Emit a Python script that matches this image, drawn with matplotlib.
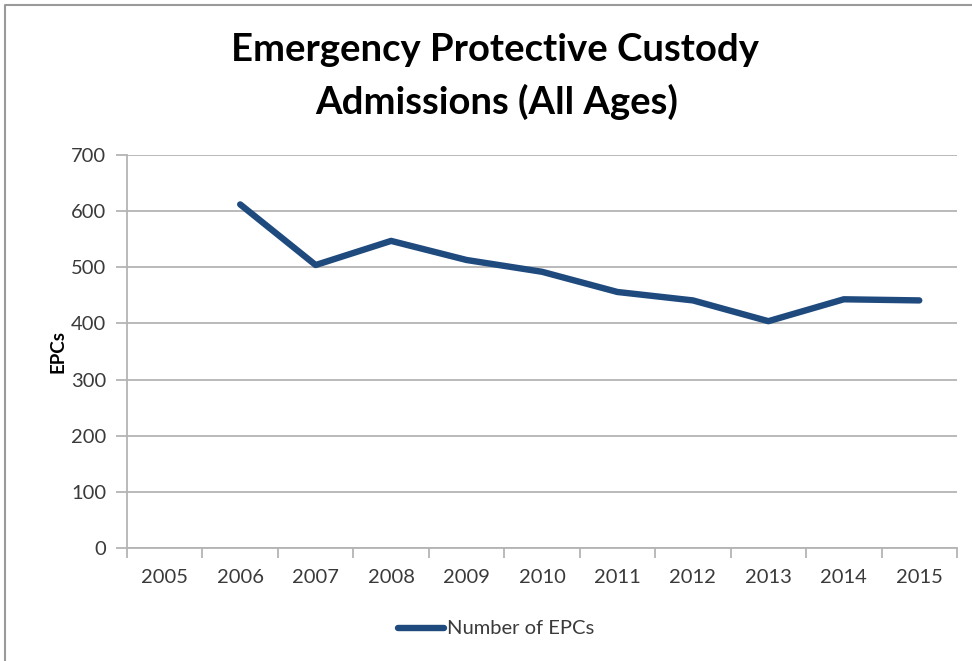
import matplotlib
matplotlib.use("Agg")
import matplotlib.pyplot as plt
from matplotlib.lines import Line2D

# Annual emergency protective custody admissions
years = ["2005", "2006", "2007", "2008", "2009", "2010",
         "2011", "2012", "2013", "2014", "2015"]
epcs = [None, 612, 504, 547, 513, 492, 456, 441, 404, 443, 441]
y_ticks = [0, 100, 200, 300, 400, 500, 600, 700]

W, H = 972, 661
fig = plt.figure(figsize=(W / 100, H / 100), dpi=100)
plt.rcParams['font.family'] = ['Lato', 'DejaVu Sans']

# plot area in pixel coordinates
left, right, top, bottom = 127, 957, 155, 548
ax = fig.add_axes([left / W, 1 - bottom / H, (right - left) / W, (bottom - top) / H])

line_color = "#1F4A7E"
grid_color = "#B4B4B4"
text_color = "#3A3A3A"

xs = [i for i, v in enumerate(epcs) if v is not None]
vs = [v for v in epcs if v is not None]
ax.plot(xs, vs, color=line_color, lw=4.6, solid_capstyle="round",
        solid_joinstyle="round", zorder=3)

ax.set_xlim(-0.5, len(years) - 0.5)
ax.set_ylim(0, 700)
ax.set_yticks(y_ticks)
ax.set_yticklabels([str(t) for t in y_ticks])
ax.yaxis.grid(True, color=grid_color, lw=1.3)
ax.set_axisbelow(True)

# category labels centered, tick marks on boundaries
ax.set_xticks(range(len(years)))
ax.set_xticklabels(years)
ax.set_xticks([i - 0.5 for i in range(len(years) + 1)], minor=True)
ax.tick_params(axis="x", which="major", length=0, pad=15, labelsize=14.5,
               labelcolor=text_color)
ax.tick_params(axis="x", which="minor", length=7, width=1.3, color=grid_color,
               direction="out")
ax.tick_params(axis="y", length=8, width=1.3, color=grid_color, pad=7,
               labelsize=14.5, labelcolor=text_color)

for s in ["top", "right"]:
    ax.spines[s].set_visible(False)
for s in ["left", "bottom"]:
    ax.spines[s].set_color(grid_color)
    ax.spines[s].set_linewidth(1.3)

ax.set_ylabel("EPCs", fontsize=13.5, fontweight="bold", color="black", labelpad=3)

fig.text(495 / W, 1 - 50 / H, "Emergency Protective Custody", ha="center",
         va="center", fontsize=27.5, fontweight="bold", color="black")
fig.text(497 / W, 1 - 102 / H, "Admissions (All Ages)", ha="center",
         va="center", fontsize=27.5, fontweight="bold", color="black")

# legend
fig.lines.append(Line2D([398 / W, 444 / W], [1 - 628 / H, 1 - 628 / H],
                        color=line_color, lw=4.6, solid_capstyle="round",
                        transform=fig.transFigure))
fig.text(447 / W, 1 - 628 / H, "Number of EPCs", ha="left", va="center",
         fontsize=14.5, color=text_color)

# chart frame
fig.lines.append(Line2D([5 / W, 5 / W, 1.0], [0.0, 1 - 5 / H, 1 - 5 / H],
                        color="#9A9A9A", lw=1.5, transform=fig.transFigure))

fig.savefig("out.png", dpi=100)
